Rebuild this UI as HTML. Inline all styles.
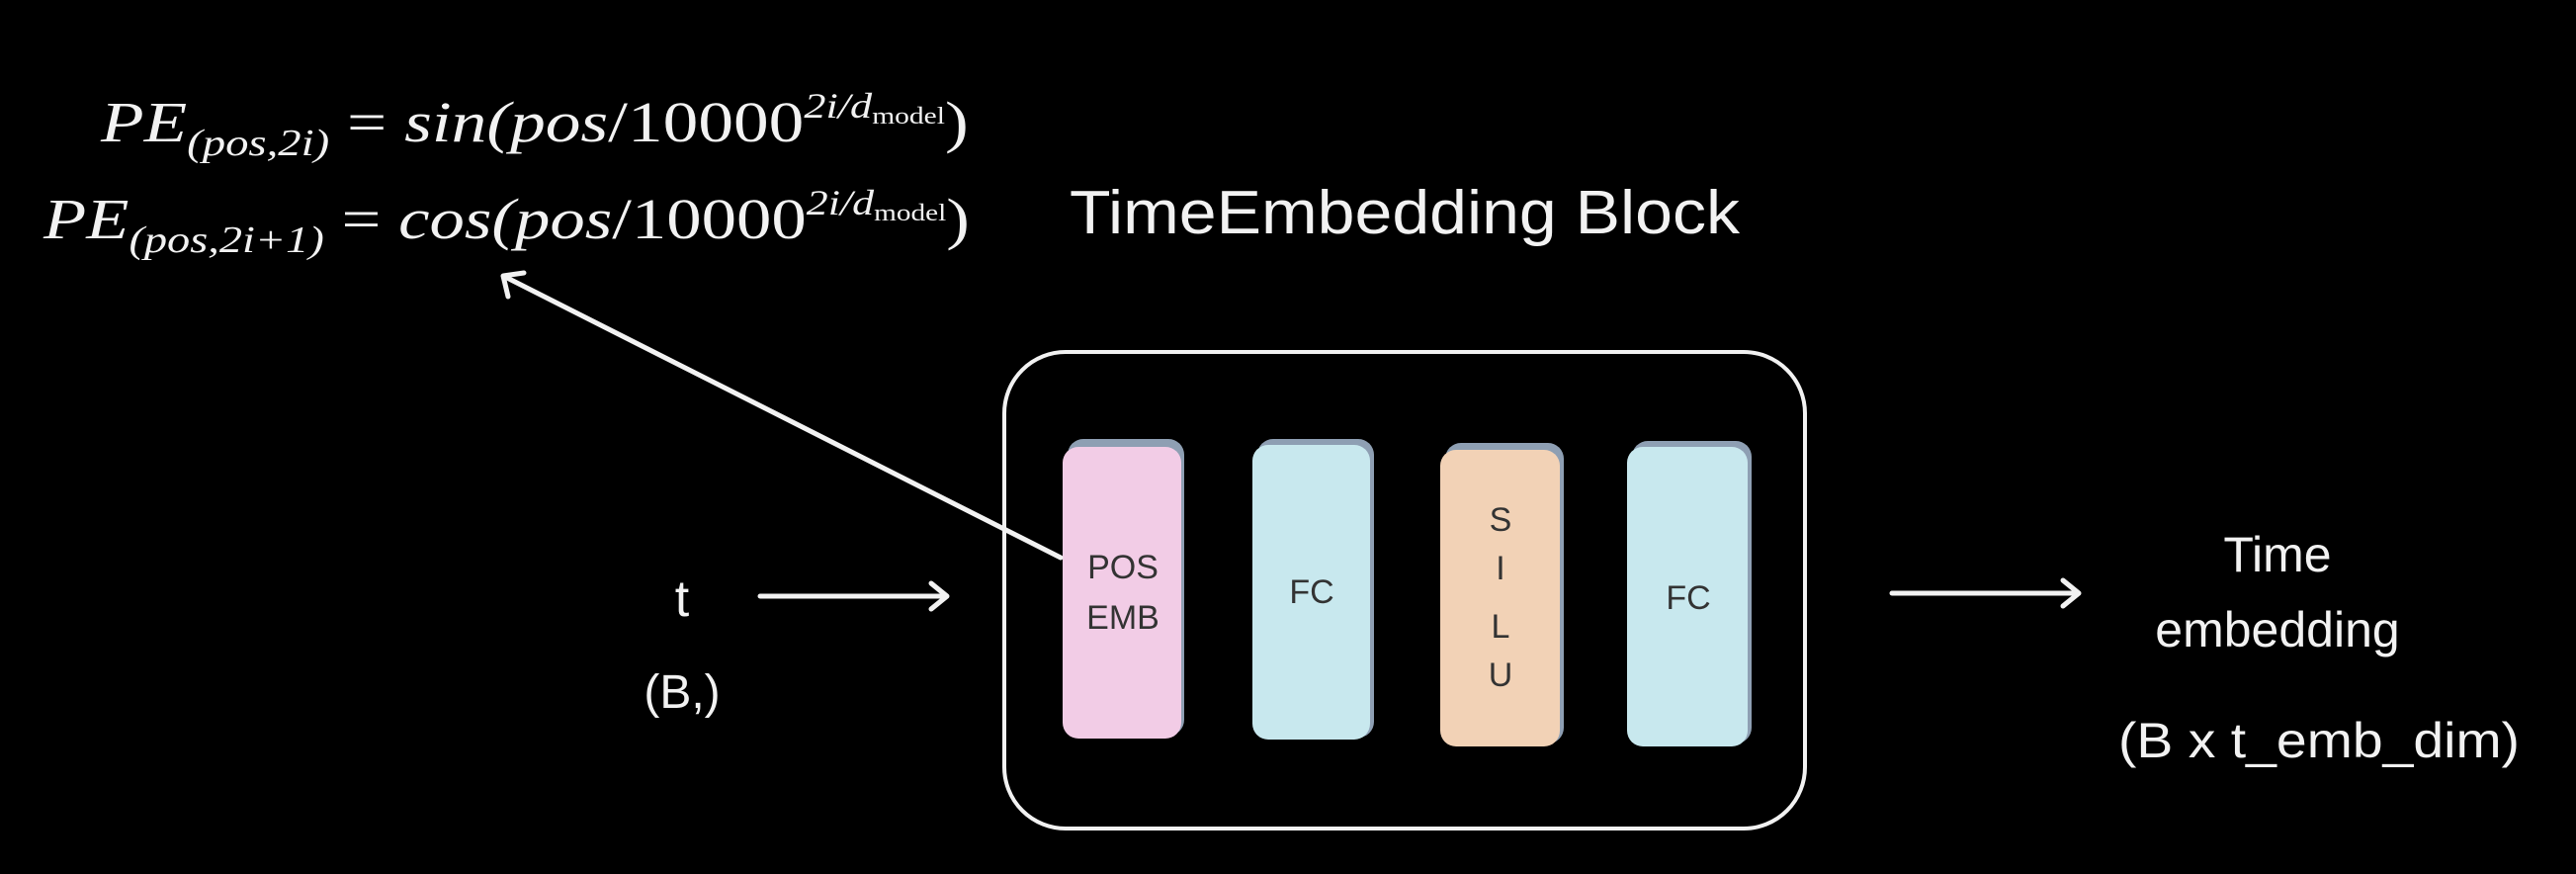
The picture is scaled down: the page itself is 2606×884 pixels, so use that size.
<!DOCTYPE html>
<html><head><meta charset="utf-8"><style>
html,body{margin:0;padding:0;background:#000;}
svg{display:block;}
</style></head><body>
<svg width="2606" height="884" viewBox="0 0 2606 884" xmlns="http://www.w3.org/2000/svg">
<rect width="2606" height="884" fill="#000"/>
<g font-family="Liberation Serif, serif" fill="#f2f2f2" font-style="italic">
  <g transform="translate(102,0) scale(1.23,1)">
  <text x="0" y="143" font-size="58">PE<tspan font-size="38" dy="14">(pos,2i)</tspan><tspan dy="-14" font-style="normal" font-size="58"> = </tspan>sin(pos<tspan font-style="normal">/10000</tspan><tspan font-size="36" dy="-24">2i/d</tspan><tspan font-size="24" dy="6" font-style="normal">model</tspan><tspan dy="18" font-style="normal" font-size="58">)</tspan></text>
  </g>
  <g transform="translate(44,0) scale(1.22,1)">
  <text x="0" y="241" font-size="58">PE<tspan font-size="38" dy="14">(pos,2i+1)</tspan><tspan dy="-14" font-style="normal" font-size="58"> = </tspan>cos(pos<tspan font-style="normal">/10000</tspan><tspan font-size="36" dy="-24">2i/d</tspan><tspan font-size="24" dy="6" font-style="normal">model</tspan><tspan dy="18" font-style="normal" font-size="58">)</tspan></text>
  </g>
</g>
<g font-family="Liberation Sans, sans-serif" fill="#f2f2f2">
  <text x="1082" y="236" font-size="62" textLength="678" lengthAdjust="spacingAndGlyphs">TimeEmbedding Block</text>
  <text x="690" y="623" font-size="52" text-anchor="middle">t</text>
  <text x="690" y="716" font-size="48" text-anchor="middle">(B,)</text>
  <text x="2304" y="578" font-size="50" text-anchor="middle">Time</text>
  <text x="2304" y="654" font-size="50" text-anchor="middle">embedding</text>
  <text x="2346" y="766" font-size="50" text-anchor="middle" textLength="406" lengthAdjust="spacingAndGlyphs">(B x t_emb_dim)</text>
</g>
<rect x="1016" y="356" width="810" height="482" rx="62" fill="none" stroke="#f2f2f2" stroke-width="4"/>
<g>
  <rect x="1080" y="444" width="118" height="300" rx="16" fill="#8e9fb3"/>
  <rect x="1075" y="452" width="120" height="295" rx="16" fill="#f2cce6"/>
  <rect x="1272" y="444" width="118" height="302" rx="16" fill="#8e9fb3"/>
  <rect x="1267" y="450" width="119" height="298" rx="16" fill="#c8e8ee"/>
  <rect x="1462" y="448" width="120" height="304" rx="16" fill="#8e9fb3"/>
  <rect x="1457" y="455" width="121" height="300" rx="16" fill="#f2d2b6"/>
  <rect x="1651" y="446" width="121" height="306" rx="16" fill="#8e9fb3"/>
  <rect x="1646" y="452" width="122" height="303" rx="16" fill="#c8e8ee"/>
</g>
<g font-family="Liberation Sans, sans-serif" fill="#333" font-size="34" text-anchor="middle">
  <text x="1136" y="585">POS</text>
  <text x="1136" y="636">EMB</text>
  <text x="1327" y="610">FC</text>
  <text x="1518" y="537">S</text>
  <text x="1518" y="586">I</text>
  <text x="1518" y="645">L</text>
  <text x="1518" y="694">U</text>
  <text x="1708" y="616">FC</text>
</g>
<g stroke="#f2f2f2" stroke-width="5" fill="none" stroke-linecap="round" stroke-linejoin="round">
  <line x1="769" y1="603" x2="957" y2="603"/>
  <polyline points="942,590 958,603 942,616"/>
  <line x1="1914" y1="600" x2="2102" y2="600"/>
  <polyline points="2087,587 2103,600 2087,613"/>
  <line x1="1073" y1="564" x2="511" y2="280"/>
  <polyline points="514,300 509,279 530,276"/>
</g>
</svg>
</body></html>
